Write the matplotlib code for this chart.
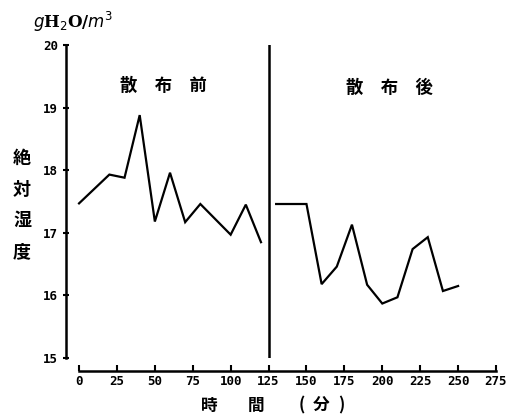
import matplotlib
matplotlib.use("Agg")
import matplotlib.pyplot as plt

plt.rcParams['font.family'] = ['Noto Sans CJK JP', 'DejaVu Sans']

# Data
t_before = [0, 20, 30, 40, 50, 60, 70, 80, 100, 110, 120]
h_before = [17.47, 17.93, 17.88, 18.88, 17.18, 17.96, 17.17, 17.46, 16.97, 17.45, 16.85]
t_after = [130, 150, 160, 170, 180, 190, 200, 210, 220, 230, 240, 250]
h_after = [17.46, 17.46, 16.18, 16.46, 17.13, 16.17, 15.87, 15.97, 16.74, 16.93, 16.07, 16.15]
x_ticks = [0, 25, 50, 75, 100, 125, 150, 175, 200, 225, 250, 275]
y_ticks = [15, 16, 17, 18, 19, 20]
divider_t = 125

fig = plt.figure(figsize=(5.11, 4.18), dpi=100)
ax = fig.add_axes([66/511, 1-358/418, (496-66)/511, (358-45)/418])

ax.plot(t_before, h_before, color='black', lw=1.6, solid_joinstyle='miter')
ax.plot(t_after, h_after, color='black', lw=1.6, solid_joinstyle='miter')
ax.plot([divider_t, divider_t], [15, 20], color='black', lw=1.8)

ax.set_xlim(-8.6, 275)
ax.set_ylim(15, 20)

for s in ['top', 'right']:
    ax.spines[s].set_visible(False)
ax.spines['left'].set_linewidth(1.8)
ax.spines['bottom'].set_linewidth(1.8)
ax.spines['bottom'].set_position(('outward', 9))
ax.spines['bottom'].set_bounds(0, 275)

ax.set_xticks(x_ticks)
ax.set_xticklabels([str(v) for v in x_ticks])
ax.set_yticks(y_ticks)
ax.set_yticklabels([str(v) for v in y_ticks])
ax.tick_params(axis='x', direction='in', length=4, width=1.5, pad=3)
ax.tick_params(axis='y', direction='inout', length=5, width=1.5, pad=3)
for lab in ax.get_xticklabels() + ax.get_yticklabels():
    lab.set_fontfamily('DejaVu Sans Mono')
    lab.set_fontweight('bold')
    lab.set_fontsize(9)

ax.text(55.5, 19.35, '散\u3000布\u3000前', ha='center', va='center', fontsize=12.5, fontweight='bold')
ax.text(205, 19.32, '散\u3000布\u3000後', ha='center', va='center', fontsize=12.5, fontweight='bold')

fig.text(22/511, 1-205/418, '絶\n対\n湿\n度', ha='center', va='center', fontsize=13,
         fontweight='bold', linespacing=1.8)
fig.text(33/511, 1-22/418, r'$g$H$_2$O/$m^3$', ha='left', va='center', fontsize=12,
         fontweight='bold', family=['DejaVu Serif'])
fig.text(209/511, 1-406/418, '時', ha='center', va='center', fontsize=12, fontweight='bold')
fig.text(256/511, 1-406/418, '間', ha='center', va='center', fontsize=12, fontweight='bold')
fig.text(302/511, 1-405/418, '(', ha='center', va='center', fontsize=12, fontweight='bold')
fig.text(321/511, 1-406/418, '分', ha='center', va='center', fontsize=12, fontweight='bold')
fig.text(341/511, 1-405/418, ')', ha='center', va='center', fontsize=12, fontweight='bold')

fig.savefig('out.png', dpi=100)
